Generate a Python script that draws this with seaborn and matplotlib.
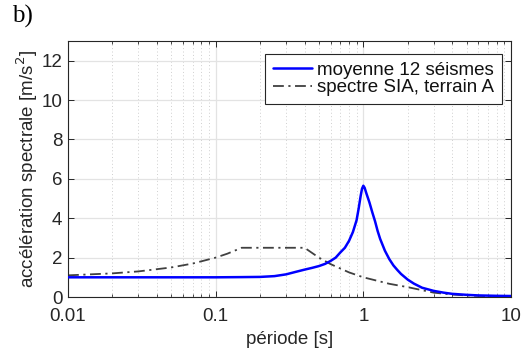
import matplotlib
matplotlib.use("Agg")
import matplotlib.pyplot as plt
import seaborn as sns
import pandas as pd
from matplotlib.ticker import FixedLocator, LogLocator, NullFormatter

# Data
periode_moy = [0.01, 0.02, 0.05, 0.1, 0.15, 0.2, 0.25, 0.3, 0.35, 0.4, 0.45, 0.5, 0.55,
               0.6, 0.65, 0.7, 0.75, 0.8, 0.85, 0.9, 0.93, 0.96, 0.98, 1.0, 1.02, 1.05,
               1.1, 1.15, 1.2, 1.25, 1.3, 1.4, 1.5, 1.6, 1.7, 1.8, 2.0, 2.2, 2.5, 3.0,
               3.5, 4.0, 5.0, 6.0, 8.0, 10.0]
acc_moy = [1.0, 1.0, 1.0, 1.0, 1.01, 1.02, 1.06, 1.15, 1.28, 1.39, 1.48, 1.57, 1.68,
           1.83, 2.0, 2.27, 2.5, 2.85, 3.3, 3.9, 4.5, 5.15, 5.5, 5.65, 5.55, 5.25,
           4.8, 4.3, 3.85, 3.35, 2.95, 2.35, 1.92, 1.6, 1.37, 1.17, 0.88, 0.68, 0.47, 0.31,
           0.22, 0.16, 0.11, 0.08, 0.06, 0.05]

periode_sia = [0.01, 0.02, 0.03, 0.05, 0.07, 0.1, 0.12, 0.15, 0.4, 0.5, 0.6, 0.8,
               1.0, 1.5, 2.0, 3.0, 4.0, 5.0, 7.0, 10.0]
acc_sia = [1.1, 1.2, 1.3, 1.5, 1.7, 2.0, 2.2, 2.5, 2.5, 2.0, 1.67, 1.25,
           1.0, 0.67, 0.5, 0.22, 0.125, 0.08, 0.041, 0.02]

label_moy = "moyenne 12 séismes"
label_sia = "spectre SIA, terrain A"
xticks = [0.01, 0.1, 1, 10]
xticklabels = ["0.01", "0.1", "1", "10"]
yticks = [0, 2, 4, 6, 8, 10, 12]

sns.set_theme(style="white")
plt.rcParams['font.family'] = ['Liberation Sans', 'DejaVu Sans']

FS = 13.5
fig = plt.figure(figsize=(5.26, 3.5), dpi=100)
ax = fig.add_axes([68/526, 53/350, 443/526, 256/350])

df_moy = pd.DataFrame({"T": periode_moy, "A": acc_moy})
df_sia = pd.DataFrame({"T": periode_sia, "A": acc_sia})

sns.lineplot(data=df_moy, x="T", y="A", ax=ax, color="#0000ff", linewidth=1.8,
             label=label_moy, zorder=3)
sns.lineplot(data=df_sia, x="T", y="A", ax=ax, color="#404040", linewidth=1.3,
             linestyle=(0, (6, 2.5, 1.2, 2.5)), label=label_sia, zorder=2)

ax.set_xscale("log")
ax.set_xlim(0.01, 10)
ax.set_ylim(0, 13)
ax.xaxis.set_major_locator(FixedLocator(xticks))
ax.set_xticklabels(xticklabels)
ax.xaxis.set_minor_locator(LogLocator(base=10, subs=range(2, 10), numticks=20))
ax.xaxis.set_minor_formatter(NullFormatter())
ax.set_yticks(yticks)

ax.grid(True, which="major", color="#e3e3e3", linewidth=0.9, linestyle="-")
ax.grid(True, which="minor", axis="x", color="#cfcfcf", linewidth=0.7, linestyle=(0, (1, 2.5)))
ax.set_axisbelow(True)

for s in ax.spines.values():
    s.set_color("#262626")
    s.set_linewidth(0.8)
ax.tick_params(which="both", direction="in", top=True, right=True, bottom=True, left=True,
               color="#262626", labelsize=FS, labelcolor="#262626")
ax.tick_params(which="major", length=4, width=0.7)
ax.tick_params(which="minor", length=2.2, width=0.6)
ax.tick_params(axis="x", which="major", pad=8)
ax.tick_params(axis="y", which="major", pad=4)

ax.set_xlabel("période [s]", fontsize=FS, color="#262626", labelpad=4)
ax.set_ylabel("accélération spectrale [m/s$^2$]", fontsize=FS, color="#262626", labelpad=1)

leg = ax.legend(loc="upper right", bbox_to_anchor=((502-68)/443, (297-54)/256),
                borderaxespad=0, fontsize=FS, frameon=True, fancybox=False,
                edgecolor="#262626", framealpha=1, borderpad=0.42, handlelength=2.08,
                handletextpad=0.27, labelspacing=0.0)
leg.get_frame().set_linewidth(0.8)
for t in leg.get_texts():
    t.set_color("#111111")

fig.text(12/526, 1 - 16/350, "b)", fontsize=18, family=["Liberation Serif", "DejaVu Serif"],
         va="center", ha="left", color="black")

fig.savefig("out.png", dpi=100)
